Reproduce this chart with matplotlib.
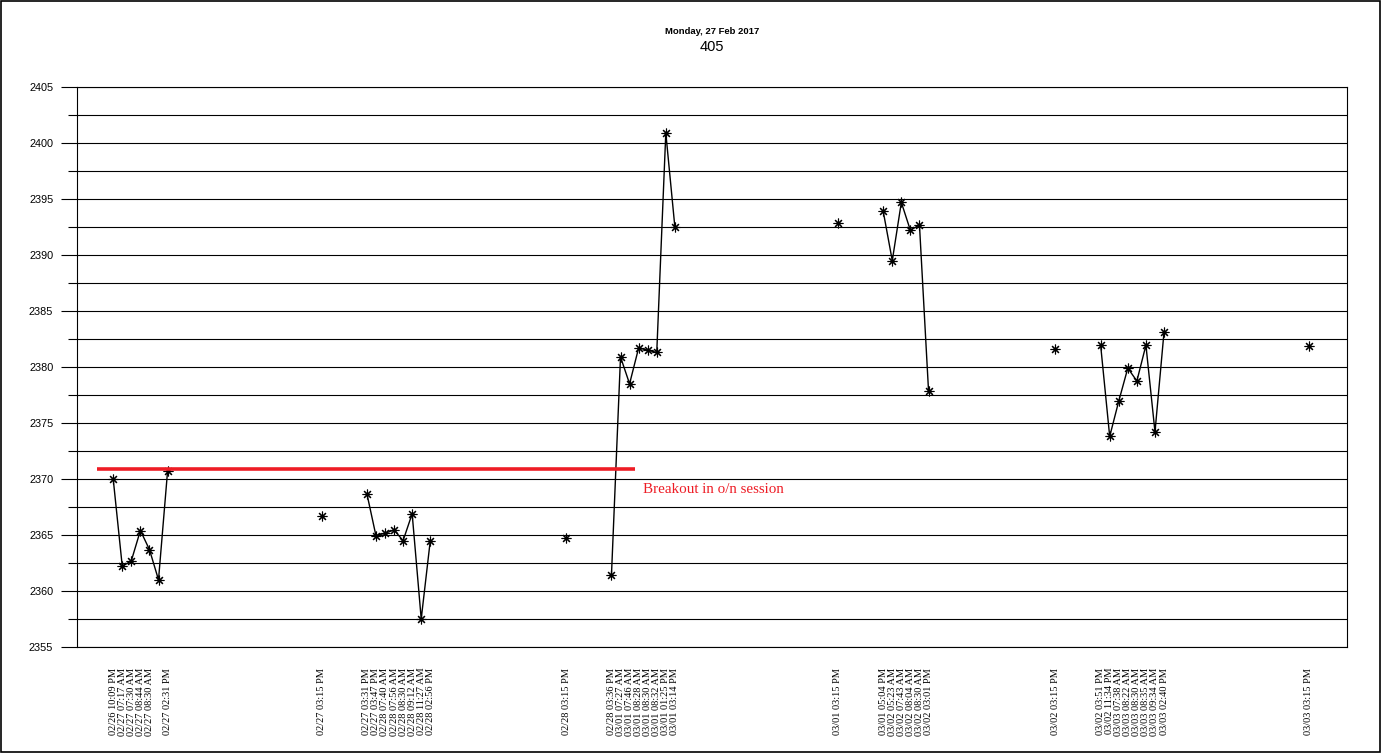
import matplotlib
matplotlib.use("Agg")
from matplotlib import pyplot as plt
from matplotlib.patches import Rectangle
from matplotlib.ticker import MultipleLocator

# slot index on the category axis (empty slots are gaps between sessions)
slots = [0, 1, 2, 3, 4, 5, 6,
         23,
         28, 29, 30, 31, 32, 33, 34, 35,
         50,
         55, 56, 57, 58, 59, 60, 61, 62,
         80,
         85, 86, 87, 88, 89, 90,
         104,
         109, 110, 111, 112, 113, 114, 115, 116,
         132]

# points with the same session id are joined by a line
session = [0] * 7 + [1] + [2] * 8 + [3] + [4] * 8 + [5] + [6] * 6 + [7] + [8] * 8 + [9]

prices = [2370.0, 2362.2, 2362.7, 2365.4, 2363.7, 2361.0, 2370.7,
          2366.7,
          2368.7, 2364.95, 2365.15, 2365.45, 2364.5, 2366.9, 2357.5, 2364.5,
          2364.7,
          2361.4, 2380.9, 2378.5, 2381.7, 2381.5, 2381.3, 2400.9, 2392.5,
          2392.9,
          2393.9, 2389.5, 2394.7, 2392.2, 2392.7, 2377.9,
          2381.6,
          2381.95, 2373.8, 2376.95, 2379.9, 2378.75, 2381.95, 2374.2, 2383.15,
          2381.9]

times = ["02/26 10:09 PM", "02/27 07:17 AM", "02/27 07:30 AM", "02/27 08:44 AM", "02/27 08:30 AM", "", "02/27 02:31 PM",
         "02/27 03:15 PM",
         "02/27 03:31 PM", "02/27 03:47 PM", "02/28 07:40 AM", "02/28 07:56 AM", "02/28 08:30 AM", "02/28 09:12 AM", "02/28 11:27 AM", "02/28 02:56 PM",
         "02/28 03:15 PM",
         "02/28 03:36 PM", "03/01 07:27 AM", "03/01 07:46 AM", "03/01 08:28 AM", "03/01 08:30 AM", "03/01 08:32 AM", "03/01 01:25 PM", "03/01 03:14 PM",
         "03/01 03:15 PM",
         "03/01 05:04 PM", "03/02 05:23 AM", "03/02 07:43 AM", "03/02 08:04 AM", "03/02 08:30 AM", "03/02 03:01 PM",
         "03/02 03:15 PM",
         "03/02 03:51 PM", "03/02 11:34 PM", "03/03 07:38 AM", "03/03 08:22 AM", "03/03 08:30 AM", "03/03 08:35 AM", "03/03 09:34 AM", "03/03 02:40 PM",
         "03/03 03:15 PM"]

breakout_level = 2370.9
breakout_span = (-1.8, 57.6)
breakout_text = "Breakout in o/n session"

fig = plt.figure(figsize=(13.82, 7.54), dpi=100)
ax = fig.add_axes([0.0557, 0.1419, 0.919, 0.7427])

for s in sorted(set(session)):
    xs = [x for x, g in zip(slots, session) if g == s]
    ys = [y for y, g in zip(prices, session) if g == s]
    ax.plot(xs, ys, color="black", linewidth=1.0, marker=(8, 2, 0),
            markersize=7, markeredgewidth=0.8, zorder=3)

ax.plot(breakout_span, [breakout_level, breakout_level], color="#ee1c25",
        linewidth=2.6, solid_capstyle="butt", zorder=4)
ax.text(breakout_span[1] + 0.9, 2369.1, breakout_text, color="#ee1c25",
        family="Liberation Serif", fontsize=10.8, va="center", ha="left")

ax.set_xlim(-4, 136.2)
ax.set_ylim(2355, 2405)
ax.yaxis.set_major_locator(MultipleLocator(5))
ax.yaxis.set_minor_locator(MultipleLocator(2.5))
ax.grid(True, which="both", axis="y", color="black", linewidth=0.8)
ax.set_axisbelow(True)

ax.set_xticks(slots)
ax.set_xticklabels(times, rotation=90, family="Liberation Serif", fontsize=7.5)
ax.tick_params(axis="x", length=0, pad=15)
ax.tick_params(axis="y", which="major", length=11.5, width=0.8, pad=5.5, labelsize=7.8)
ax.tick_params(axis="y", which="minor", length=6.5, width=0.8)
for lab in ax.get_yticklabels():
    lab.set_family("Liberation Sans")
for sp in ax.spines.values():
    sp.set_color("black")
    sp.set_linewidth(0.8)

fig.text(0.5152, 0.9576, "Monday, 27 Feb 2017", ha="center", va="center",
         fontsize=6.8, fontweight="bold", family="Liberation Sans")
fig.text(0.5152, 0.9377, "405", ha="center", va="center",
         fontsize=10.5, family="Liberation Sans")

fig.patches.append(Rectangle((0.0008, 0.003), 0.9975, 0.9955, fill=False,
                             edgecolor="black", linewidth=1.2,
                             transform=fig.transFigure, figure=fig))

plt.savefig("out.png", dpi=100)
